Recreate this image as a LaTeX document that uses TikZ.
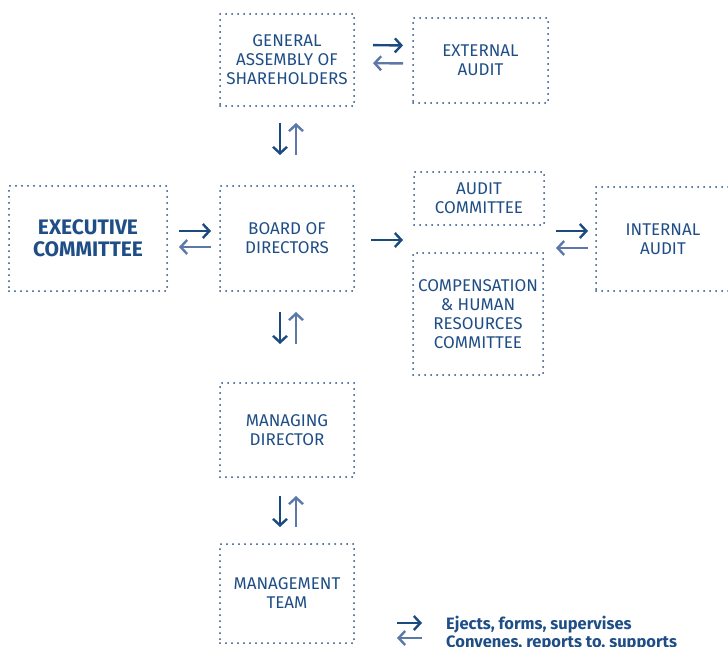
\documentclass[tikz,border=0pt]{standalone}
\usepackage{fontspec}
\setmainfont{Fira Sans}
\usepackage{xcolor}
\usetikzlibrary{arrows.meta}

\definecolor{govblue}{HTML}{1F4E86}
\definecolor{arrdark}{HTML}{1A4A7F}
\definecolor{arrlight}{HTML}{5B78A8}

\tikzset{
  govbox/.style={draw=govblue, dash pattern=on 0pt off 6pt, line cap=round,
    line width=2pt, inner sep=0pt, align=center, text=govblue,
    font=\fontsize{17}{19}\selectfont},
  fwd/.style={draw=arrdark, line width=2.4pt, -{Straight Barb[length=6.5pt,width=14pt]}},
  back/.style={draw=arrlight, line width=2.4pt, -{Straight Barb[length=6.5pt,width=14pt]}},
  keytext/.style={anchor=base west, inner sep=0pt, text=govblue,
    font=\fontsize{16.5}{18}\selectfont\bfseries}
}

\begin{document}
\begin{tikzpicture}[x=1pt,y=-1pt]
  \useasboundingbox (0,0) rectangle (728,647);

  % Boxes
  \node[govbox, minimum width=134pt, minimum height=92pt] (ga) at (287,60)
    {GENERAL\\ASSEMBLY OF\\SHAREHOLDERS};
  \node[govbox, minimum width=135pt, minimum height=85pt] (ext) at (480.5,60.5)
    {EXTERNAL\\AUDIT};
  \node[govbox, minimum width=158pt, minimum height=105pt,
        font=\fontsize{21}{22}\selectfont\bfseries] (exe) at (88,238.5)
    {EXECUTIVE\\COMMITTEE};
  \node[govbox, minimum width=134pt, minimum height=105pt] (bod) at (287,238.5)
    {BOARD OF\\DIRECTORS};
  \node[govbox, minimum width=130pt, minimum height=53pt] (aud) at (479,198.5)
    {AUDIT\\COMMITTEE};
  \node[govbox, minimum width=130pt, minimum height=122pt] (comp) at (478,314)
    {COMPENSATION\\\& HUMAN\\RESOURCES\\COMMITTEE};
  \node[govbox, minimum width=134pt, minimum height=104pt] (int) at (663,239)
    {INTERNAL\\AUDIT};
  \node[govbox, minimum width=134pt, minimum height=94pt] (md) at (287,430)
    {MANAGING\\DIRECTOR};
  \node[govbox, minimum width=134pt, minimum height=99pt] (mt) at (287,593.5)
    {MANAGEMENT\\TEAM};

  % Committee group sides
  \coordinate (cw) at (413,240);
  \coordinate (ce) at (544,239);

  % Horizontal arrows
  \draw[fwd, shorten <=18pt, shorten >=9pt] ([yshift=15pt]ga.east) -- ([yshift=15pt]ext.west);
  \draw[back, shorten <=9pt, shorten >=18pt] ([yshift=-3pt]ext.west) -- ([yshift=-3pt]ga.east);

  \draw[fwd, shorten <=11pt, shorten >=8pt] ([yshift=7.5pt]exe.east) -- ([yshift=7.5pt]bod.west);
  \draw[back, shorten <=8pt, shorten >=11pt] ([yshift=-8.5pt]bod.west) -- ([yshift=-8.5pt]exe.east);

  \draw[fwd, shorten <=16pt, shorten >=10pt] (bod.east |- cw) -- (cw);

  \draw[fwd, shorten <=12pt, shorten >=7pt] ([yshift=8pt]ce) -- ([yshift=8pt]int.west);
  \draw[back, shorten <=7pt, shorten >=12pt] ([yshift=-9pt]int.west) -- ([yshift=-9pt]ce);

  % Vertical arrows
  \draw[fwd, shorten <=16pt, shorten >=30pt] ([xshift=-7pt]ga.south) -- ([xshift=-7pt]bod.north);
  \draw[back, shorten <=30pt, shorten >=16pt] ([xshift=9pt]bod.north) -- ([xshift=9pt]ga.south);

  \draw[fwd, shorten <=20pt, shorten >=38pt] ([xshift=-7pt]bod.south) -- ([xshift=-7pt]md.north);
  \draw[back, shorten <=38pt, shorten >=20pt] ([xshift=9pt]md.north) -- ([xshift=9pt]bod.south);

  \draw[fwd, shorten <=18pt, shorten >=16pt] ([xshift=-7pt]md.south) -- ([xshift=-7pt]mt.north);
  \draw[back, shorten <=16pt, shorten >=18pt] ([xshift=9pt]mt.north) -- ([xshift=9pt]md.south);

  % Legend
  \node[keytext] (key1) at (446,629) {Ejects, forms, supervises};
  \node[keytext] (key2) at (446,647) {Convenes, reports to, supports};
  \coordinate (k1a) at (397,623);
  \coordinate (k1b) at (422,623);
  \coordinate (k2a) at (397,638);
  \coordinate (k2b) at (422,638);
  \draw[fwd] (k1a) -- (k1b);
  \draw[back] (k2b) -- (k2a);
\end{tikzpicture}
\end{document}
